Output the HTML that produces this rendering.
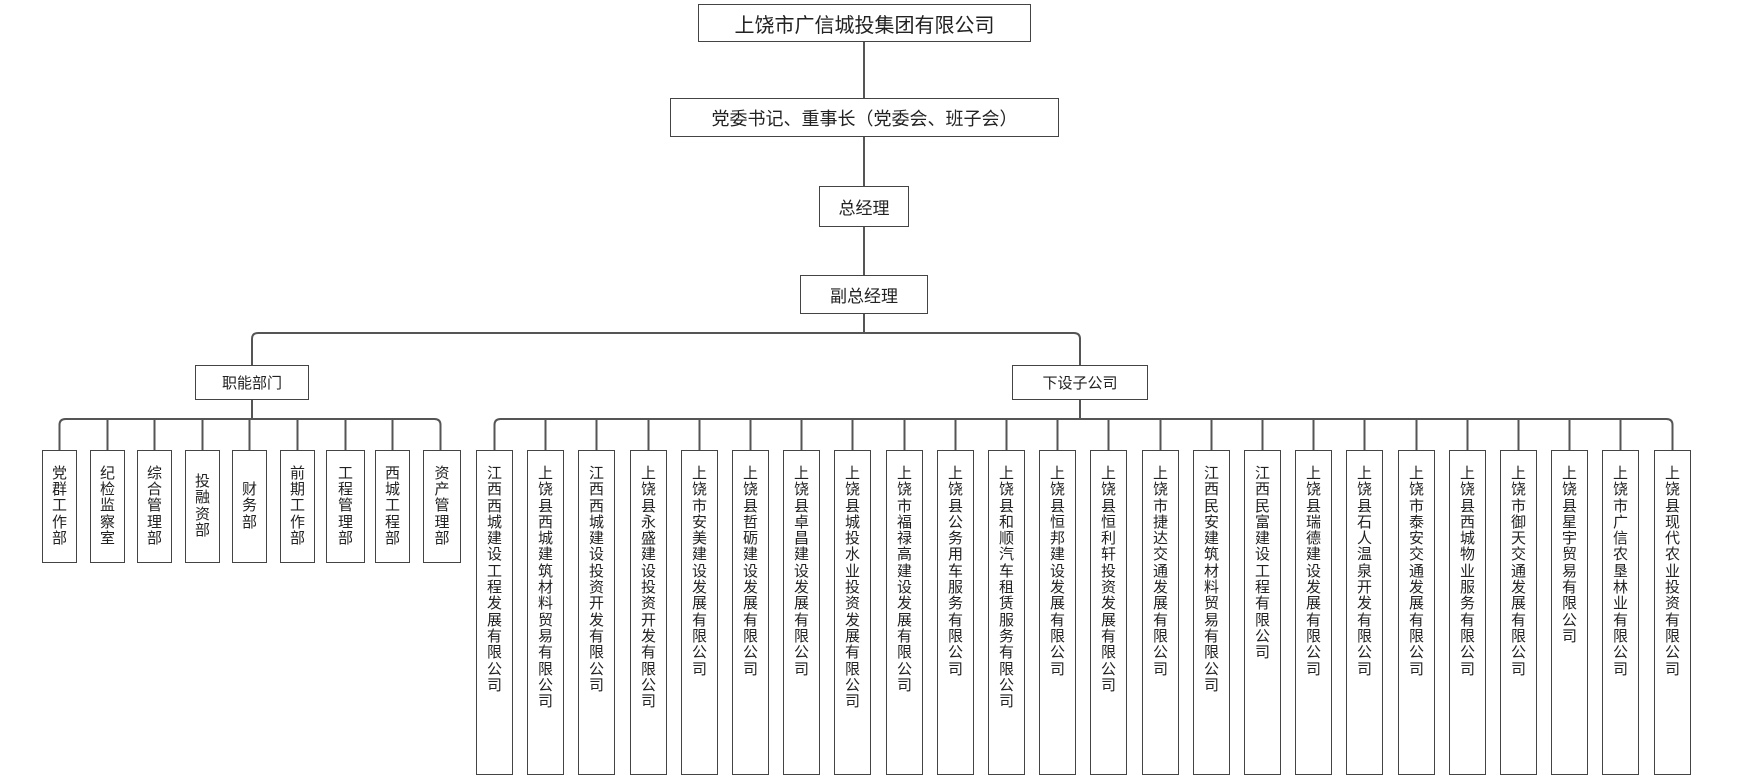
<!DOCTYPE html>
<html><head><meta charset="utf-8"><style>
body{margin:0;width:1742px;height:776px;background:#fff;position:relative;overflow:hidden;font-family:"Liberation Sans","Noto Sans CJK SC",sans-serif;color:#222}
.b{position:absolute;border:1.5px solid #444;box-sizing:border-box;background:#fff;display:flex;align-items:center;justify-content:center;text-align:center}
.d,.c{position:absolute;border:1.5px solid #444;box-sizing:border-box;background:#fff;font-size:15px;line-height:16.3px}
.d{top:450px;height:113px;width:35px;display:flex;align-items:center;justify-content:center}
.c{top:450px;height:325px;width:37px;padding-top:15px}
.v{width:16px;margin:0 auto;word-break:break-all;text-align:center}
svg{position:absolute;left:0;top:0}
</style></head><body>
<svg width="1742" height="776" fill="none" stroke="#555" stroke-width="2">
<path d="M864 42V98M864 137V186M864 227V275M864 314V333"/>
<path d="M252 365V339q0-6 6-6H1074q6 0 6 6V365"/>
<path d="M252 400V419M1080 400V419"/>
<path d="M59.5 450V425q0-6 6-6H434.5q6 0 6 6V450"/>
<path d="M107.5 419V450M154.5 419V450M202.5 419V450M249.5 419V450M297.5 419V450M345.5 419V450M392.5 419V450"/>
<path d="M494.5 450V425q0-6 6-6H1666.5q6 0 6 6V450"/>
<path d="M545.5 419V450M596.5 419V450M648.5 419V450M699.5 419V450M750.5 419V450M801.5 419V450M852.5 419V450M904.5 419V450M955.5 419V450M1006.5 419V450M1057.5 419V450M1108.5 419V450M1160.5 419V450M1211.5 419V450M1262.5 419V450M1313.5 419V450M1364.5 419V450M1416.5 419V450M1467.5 419V450M1518.5 419V450M1569.5 419V450M1620.5 419V450"/>
</svg>
<div class="b" style="left:698px;top:4px;width:333px;height:38px;font-size:20px">上饶市广信城投集团有限公司</div>
<div class="b" style="left:670px;top:98px;width:389px;height:39px;font-size:18px">党委书记、重事长（党委会、班子会）</div>
<div class="b" style="left:819px;top:186px;width:90px;height:41px;font-size:17px">总经理</div>
<div class="b" style="left:800px;top:275px;width:128px;height:39px;font-size:17px">副总经理</div>
<div class="b" style="left:195px;top:365px;width:114px;height:35px;font-size:15px">职能部门</div>
<div class="b" style="left:1012px;top:365px;width:136px;height:35px;font-size:15px">下设子公司</div>

<div class="d" style="left:42px"><div class="v">党群工作部</div></div>
<div class="d" style="left:90px"><div class="v">纪检监察室</div></div>
<div class="d" style="left:137px"><div class="v">综合管理部</div></div>
<div class="d" style="left:185px"><div class="v">投融资部</div></div>
<div class="d" style="left:232px"><div class="v">财务部</div></div>
<div class="d" style="left:280px"><div class="v">前期工作部</div></div>
<div class="d" style="left:326px;width:39px"><div class="v">工程管理部</div></div>
<div class="d" style="left:375px"><div class="v">西城工程部</div></div>
<div class="d" style="left:423px;width:38px"><div class="v">资产管理部</div></div>

<div class="c" style="left:476px"><div class="v">江西西城建设工程发展有限公司</div></div>
<div class="c" style="left:527px"><div class="v">上饶县西城建筑材料贸易有限公司</div></div>
<div class="c" style="left:578px"><div class="v">江西西城建设投资开发有限公司</div></div>
<div class="c" style="left:630px"><div class="v">上饶县永盛建设投资开发有限公司</div></div>
<div class="c" style="left:681px"><div class="v">上饶市安美建设发展有限公司</div></div>
<div class="c" style="left:732px"><div class="v">上饶县哲砺建设发展有限公司</div></div>
<div class="c" style="left:783px"><div class="v">上饶县卓昌建设发展有限公司</div></div>
<div class="c" style="left:834px"><div class="v">上饶县城投水业投资发展有限公司</div></div>
<div class="c" style="left:886px"><div class="v">上饶市福禄高建设发展有限公司</div></div>
<div class="c" style="left:937px"><div class="v">上饶县公务用车服务有限公司</div></div>
<div class="c" style="left:988px"><div class="v">上饶县和顺汽车租赁服务有限公司</div></div>
<div class="c" style="left:1039px"><div class="v">上饶县恒邦建设发展有限公司</div></div>
<div class="c" style="left:1090px"><div class="v">上饶县恒利轩投资发展有限公司</div></div>
<div class="c" style="left:1142px"><div class="v">上饶市捷达交通发展有限公司</div></div>
<div class="c" style="left:1193px"><div class="v">江西民安建筑材料贸易有限公司</div></div>
<div class="c" style="left:1244px"><div class="v">江西民富建设工程有限公司</div></div>
<div class="c" style="left:1295px"><div class="v">上饶县瑞德建设发展有限公司</div></div>
<div class="c" style="left:1346px"><div class="v">上饶县石人温泉开发有限公司</div></div>
<div class="c" style="left:1398px"><div class="v">上饶市泰安交通发展有限公司</div></div>
<div class="c" style="left:1449px"><div class="v">上饶县西城物业服务有限公司</div></div>
<div class="c" style="left:1500px"><div class="v">上饶市御天交通发展有限公司</div></div>
<div class="c" style="left:1551px"><div class="v">上饶县星宇贸易有限公司</div></div>
<div class="c" style="left:1602px"><div class="v">上饶市广信农垦林业有限公司</div></div>
<div class="c" style="left:1654px"><div class="v">上饶县现代农业投资有限公司</div></div>
</body></html>
